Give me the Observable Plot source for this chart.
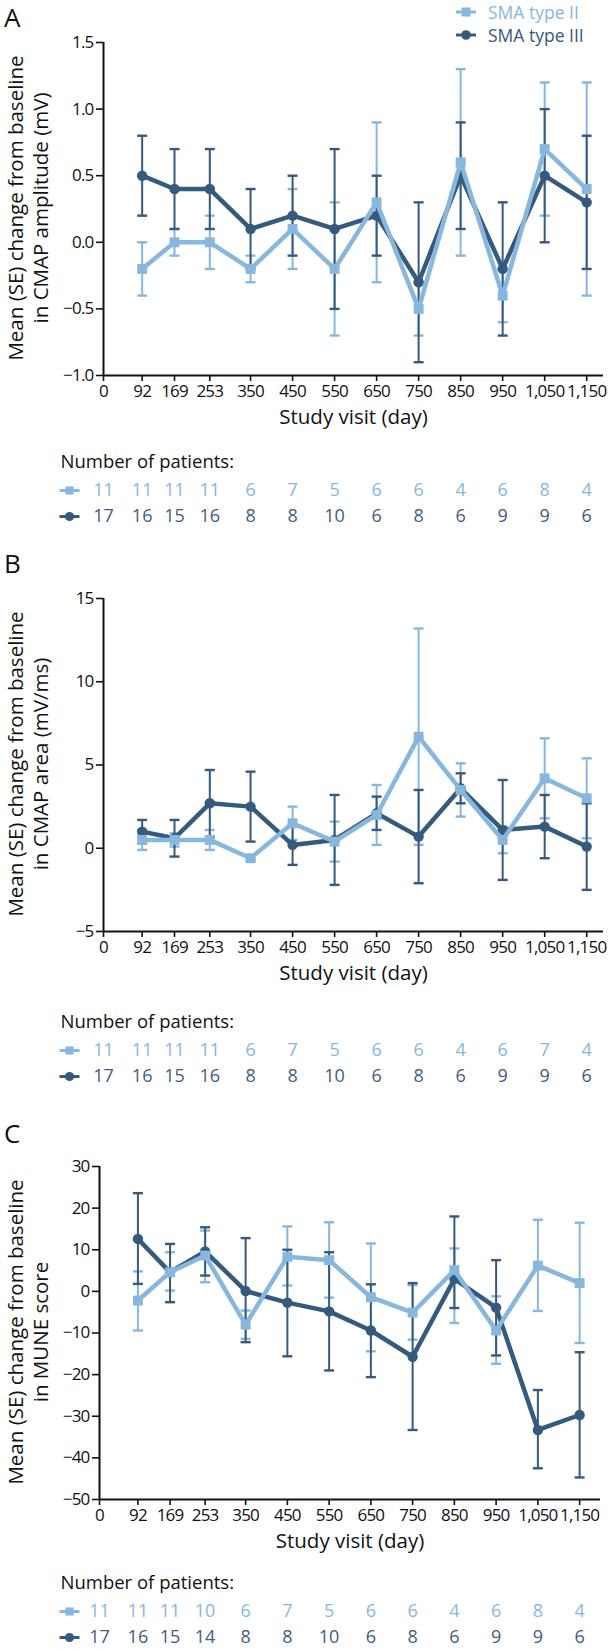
<!DOCTYPE html>
<html>
<head>
<meta charset="utf-8">
<script src="https://cdn.jsdelivr.net/npm/d3@7"></script>
<script src="https://cdn.jsdelivr.net/npm/@observablehq/plot@0.6"></script>
<style>
  html, body { margin: 0; padding: 0; background: #fff; }
  #page { position: relative; width: 608px; height: 1649px; overflow: hidden; font-family: "Open Sans", sans-serif; color: #111; }
  .abs { position: absolute; }
  .letter { position: absolute; left: 4px; font-size: 26px; line-height: 28px; color: #111; }
  .leg { position: absolute; left: 455px; font-size: 17.5px; line-height: 20px; display: flex; align-items: center; }
  .leg svg { margin-right: 11px; }
  .ytitle { position: absolute; white-space: nowrap; font-size: 20.5px; line-height: 24px; color: #111; transform: translate(-50%, -50%) rotate(-90deg); }
  .axtick text { letter-spacing: -0.8px; }
</style>
</head>
<body>
<div id="page"></div>
<script>
// ---------- data ----------
const days = [92, 169, 253, 350, 450, 550, 650, 750, 850, 950, 1050, 1150];
const dayTicks = [0, 92, 169, 253, 350, 450, 550, 650, 750, 850, 950, 1050, 1150];
const seriesNames = ["SMA type II", "SMA type III"];

// Panel A: CMAP amplitude (mV)
const ampII_mean  = [-0.2, 0.0, 0.0, -0.2, 0.1, -0.2, 0.3, -0.5, 0.6, -0.4, 0.7, 0.4];
const ampII_lo    = [-0.4, -0.1, -0.2, -0.3, -0.2, -0.7, -0.3, -0.7, -0.1, -0.6, 0.2, -0.4];
const ampII_hi    = [0.0, 0.1, 0.2, -0.1, 0.4, 0.3, 0.9, -0.3, 1.3, -0.2, 1.2, 1.2];
const ampIII_mean = [0.5, 0.4, 0.4, 0.1, 0.2, 0.1, 0.2, -0.3, 0.5, -0.2, 0.5, 0.3];
const ampIII_lo   = [0.2, 0.1, 0.1, -0.2, -0.1, -0.5, -0.1, -0.9, 0.1, -0.7, 0.0, -0.2];
const ampIII_hi   = [0.8, 0.7, 0.7, 0.4, 0.5, 0.7, 0.5, 0.3, 0.9, 0.3, 1.0, 0.8];
const ampTicks = [-1.0, -0.5, 0.0, 0.5, 1.0, 1.5];

// Panel B: CMAP area (mV/ms)
const areaII_mean  = [0.5, 0.5, 0.5, -0.6, 1.5, 0.4, 2.0, 6.7, 3.5, 0.5, 4.2, 3.0];
const areaII_lo    = [-0.1, 0.1, -0.1, -0.7, 0.5, -0.8, 0.2, 0.2, 1.9, -0.3, 1.8, 0.6];
const areaII_hi    = [1.1, 0.9, 1.1, -0.5, 2.5, 1.6, 3.8, 13.2, 5.1, 1.3, 6.6, 5.4];
const areaIII_mean = [1.0, 0.6, 2.7, 2.5, 0.2, 0.5, 2.1, 0.7, 3.6, 1.1, 1.3, 0.1];
const areaIII_lo   = [0.3, -0.5, 0.7, 0.4, -1.0, -2.2, 1.1, -2.1, 2.7, -1.9, -0.6, -2.5];
const areaIII_hi   = [1.7, 1.7, 4.7, 4.6, 1.4, 3.2, 3.1, 3.5, 4.5, 4.1, 3.2, 2.7];
const areaTicks = [-5, 0, 5, 10, 15];

// Panel C: MUNE score
const muneII_mean  = [-2.2, 4.6, 8.6, -8.0, 8.3, 7.5, -1.4, -5.1, 5.1, -9.4, 6.2, 2.0];
const muneII_lo    = [-9.4, 0.2, 2.2, -11.4, 1.4, -1.5, -14.4, -11.6, -7.6, -17.4, -4.7, -12.4];
const muneII_hi    = [4.8, 9.4, 14.6, -4.6, 15.6, 16.6, 11.5, 1.5, 10.3, -1.2, 17.2, 16.5];
const muneIII_mean = [12.6, 4.6, 9.6, 0.1, -2.7, -4.8, -9.4, -15.7, 3.0, -3.9, -33.3, -29.7];
const muneIII_lo   = [1.8, -2.6, 3.8, -12.2, -15.6, -19.0, -20.6, -33.3, -4.0, -15.4, -42.5, -44.7];
const muneIII_hi   = [23.6, 11.4, 15.4, 12.8, 10.0, 9.4, 1.7, 2.0, 18.0, 7.5, -23.7, -14.6];
const muneTicks = [-50, -40, -30, -20, -10, 0, 10, 20, 30];

// Number of patients (day 0 ... 1,150)
const countsA_II  = [11, 11, 11, 11, 6, 7, 5, 6, 6, 4, 6, 8, 4];
const countsA_III = [17, 16, 15, 16, 8, 8, 10, 6, 8, 6, 9, 9, 6];
const countsB_II  = [11, 11, 11, 11, 6, 7, 5, 6, 6, 4, 6, 7, 4];
const countsB_III = [17, 16, 15, 16, 8, 8, 10, 6, 8, 6, 9, 9, 6];
const countsC_II  = [11, 11, 11, 10, 6, 7, 5, 6, 6, 4, 6, 8, 4];
const countsC_III = [17, 16, 15, 14, 8, 8, 10, 6, 8, 6, 9, 9, 6];

// ---------- styling ----------
const LIGHT = "#88b7de";
const DARK = "#36597e";
const DARK_TEXT = "#3d5e80";
const FONT = "'Open Sans', sans-serif";

const cap = { draw(ctx) { ctx.moveTo(-5, 0); ctx.lineTo(5, 0); } };
const keyLine = { draw(ctx) { ctx.moveTo(-10, 0); ctx.lineTo(10, 0); } };

function rows(mean, lo, hi) {
  return days.map((d, i) => ({ day: d, mean: mean[i], lo: lo[i], hi: hi[i] }));
}

const page = document.getElementById("page");
function place(node, top, left = 0) {
  const wrap = document.createElement("div");
  wrap.className = "abs";
  wrap.style.top = top + "px";
  wrap.style.left = left + "px";
  wrap.appendChild(node);
  page.appendChild(wrap);
}
function addDiv(cls, html, top, left) {
  const el = document.createElement("div");
  el.className = cls;
  el.innerHTML = html;
  el.style.top = top + "px";
  if (left != null) el.style.left = left + "px";
  page.appendChild(el);
  return el;
}

function panel(cfg) {
  const II = rows(cfg.mII, cfg.loII, cfg.hiII);
  const III = rows(cfg.mIII, cfg.loIII, cfg.hiIII);
  const errs = (data, color) => [
    Plot.ruleX(data, { x: "day", y1: "lo", y2: "hi", stroke: color, strokeWidth: 2 }),
    Plot.dot(data, { x: "day", y: "lo", symbol: cap, fill: "none", stroke: color, strokeWidth: 2.4 }),
    Plot.dot(data, { x: "day", y: "hi", symbol: cap, fill: "none", stroke: color, strokeWidth: 2.4 })
  ];
  return Plot.plot({
    width: 608,
    height: 440,
    marginTop: 42,
    marginBottom: 65,
    marginLeft: cfg.marginLeft,
    marginRight: 608 - cfg.xRight,
    x: { domain: [0, cfg.xMax] },
    y: { domain: cfg.yDomain },
    style: { fontFamily: FONT, fontSize: "17px", color: "#111", background: "transparent", overflow: "visible" },
    marks: [
      Plot.axisY({ ticks: cfg.yTicks, tickFormat: cfg.yFmt, tickSize: 7, tickPadding: 3, label: null, strokeWidth: 1.6, className: "axtick" }),
      Plot.axisX({ ticks: dayTicks, tickFormat: d3.format(","), tickSize: 6, tickPadding: 3, label: null, strokeWidth: 1.6, className: "axtick" }),
      Plot.ruleX([0], { stroke: "#111", strokeWidth: 2 }),
      Plot.ruleY([cfg.yDomain[0]], { stroke: "#111", strokeWidth: 2 }),
      ...errs(II, LIGHT),
      ...errs(III, DARK),
      Plot.line(III, { x: "day", y: "mean", stroke: DARK, strokeWidth: 4.5, strokeLinejoin: "round" }),
      Plot.dot(III, { x: "day", y: "mean", r: 5.2, fill: DARK, symbol: "circle" }),
      Plot.line(II, { x: "day", y: "mean", stroke: LIGHT, strokeWidth: 4.5, strokeLinejoin: "miter" }),
      Plot.dot(II, { x: "day", y: "mean", r: 5.6, fill: LIGHT, symbol: "square" }),
      Plot.text(["Study visit (day)"], { text: d => d, frameAnchor: "bottom", dy: 48, fontSize: 20.5, fill: "#111" })
    ]
  });
}

function table(cfg) {
  const data = [];
  dayTicks.forEach((d, i) => {
    data.push({ day: d, s: seriesNames[0], n: cfg.cII[i] });
    data.push({ day: d, s: seriesNames[1], n: cfg.cIII[i] });
  });
  const keys = seriesNames.map(s => ({ s }));
  return Plot.plot({
    width: 608,
    height: 78,
    marginTop: 0,
    marginBottom: 0,
    marginLeft: cfg.marginLeft,
    marginRight: 608 - cfg.xRight,
    x: { domain: [0, cfg.xMax], axis: null },
    y: { type: "point", domain: seriesNames, range: [45, 71], padding: 0, axis: null },
    style: { fontFamily: FONT, fontSize: "17px", background: "transparent", overflow: "visible" },
    marks: [
      Plot.text(["Number of patients:"], { text: d => d, frameAnchor: "top-left", dx: 60 - cfg.marginLeft, dy: 17, textAnchor: "start", lineAnchor: "middle", fontSize: 18.5, fill: "#111" }),
      Plot.text(data, { x: "day", y: "s", text: "n", fontSize: 18, fill: d => d.s === seriesNames[0] ? LIGHT : DARK_TEXT }),
      Plot.dot(keys, { y: "s", frameAnchor: "left", dx: 69 - cfg.marginLeft, symbol: keyLine, fill: "none", stroke: d => d.s === seriesNames[0] ? LIGHT : DARK, strokeWidth: 3 }),
      Plot.dot(keys.slice(0, 1), { y: "s", frameAnchor: "left", dx: 69 - cfg.marginLeft, symbol: "square", r: 4.6, fill: LIGHT }),
      Plot.dot(keys.slice(1), { y: "s", frameAnchor: "left", dx: 69 - cfg.marginLeft, symbol: "circle", r: 4.6, fill: DARK })
    ]
  });
}

// ---------- panels ----------
const fmt1 = d3.format(".1f");
const fmt0 = d3.format("d");

place(panel({
  mII: ampII_mean, loII: ampII_lo, hiII: ampII_hi,
  mIII: ampIII_mean, loIII: ampIII_lo, hiIII: ampIII_hi,
  yDomain: [-1, 1.5], yTicks: ampTicks, yFmt: fmt1,
  marginLeft: 103, xRight: 603, xMax: 1190
}), 0);
place(table({ cII: countsA_II, cIII: countsA_III, marginLeft: 103, xRight: 603, xMax: 1190 }), 445);

place(panel({
  mII: areaII_mean, loII: areaII_lo, hiII: areaII_hi,
  mIII: areaIII_mean, loIII: areaIII_lo, hiIII: areaIII_hi,
  yDomain: [-5, 15], yTicks: areaTicks, yFmt: fmt0,
  marginLeft: 103, xRight: 603, xMax: 1190
}), 556);
place(table({ cII: countsB_II, cIII: countsB_III, marginLeft: 103, xRight: 603, xMax: 1190 }), 1005);

place(panel({
  mII: muneII_mean, loII: muneII_lo, hiII: muneII_hi,
  mIII: muneIII_mean, loIII: muneIII_lo, hiIII: muneIII_hi,
  yDomain: [-50, 30], yTicks: muneTicks, yFmt: fmt0,
  marginLeft: 99, xRight: 600, xMax: 1200
}), 1124);
place(table({ cII: countsC_II, cIII: countsC_III, marginLeft: 99, xRight: 600, xMax: 1200 }), 1566);

// ---------- titles, panel letters & legend ----------
const yTitles = [
  ["Mean (SE) change from baseline", "in CMAP amplitude (mV)", 208],
  ["Mean (SE) change from baseline", "in CMAP area (mV/ms)", 764],
  ["Mean (SE) change from baseline", "in MUNE score", 1332]
];
yTitles.forEach(([l1, l2, cy]) => {
  addDiv("ytitle", l1, cy, 15);
  addDiv("ytitle", l2, cy, 40);
});

addDiv("letter", "A", 3);
addDiv("letter", "B", 549);
addDiv("letter", "C", 1119);

const keySq = `<svg width="22" height="12"><line x1="1" y1="6" x2="21" y2="6" stroke="${LIGHT}" stroke-width="3"/><rect x="6.5" y="1.5" width="9" height="9" fill="${LIGHT}"/></svg>`;
const keyCi = `<svg width="22" height="12"><line x1="1" y1="6" x2="21" y2="6" stroke="${DARK}" stroke-width="3"/><circle cx="11" cy="6" r="4.8" fill="${DARK}"/></svg>`;
addDiv("leg", keySq + `<span style="color:${LIGHT}">${seriesNames[0]}</span>`, 2);
addDiv("leg", keyCi + `<span style="color:${DARK}">${seriesNames[1]}</span>`, 25);
</script>
</body>
</html>
